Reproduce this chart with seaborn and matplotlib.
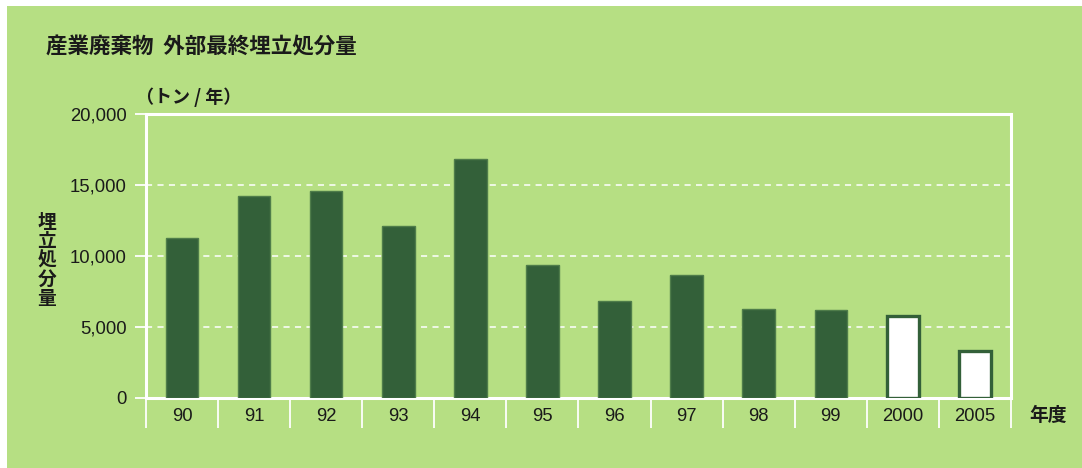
import matplotlib
matplotlib.use("Agg")
import matplotlib.pyplot as plt
import seaborn as sns
import pandas as pd
from matplotlib.patches import Rectangle

# ---- data ----
years = ["90", "91", "92", "93", "94", "95", "96", "97", "98", "99", "2000", "2005"]
landfill = [11300, 14200, 14600, 12100, 16800, 9400, 6800, 8650, 6300, 6200, 5800, 3300]
kind = ["actual"] * 10 + ["target"] * 2
yticks = [0, 5000, 10000, 15000, 20000]

title = "産業廃棄物  外部最終埋立処分量"
unit_label = "（トン / 年）"
ylabel = "埋立処分量"
xlabel = "年度"

BG = "#b6df83"
DARK = "#336039"
DARK_EDGE = "#4f7d4a"
TXT = "#1a1a1a"

sns.set_theme(style="white")
plt.rcParams["font.family"] = ["Liberation Sans", "Noto Sans CJK JP", "DejaVu Sans"]
JP = ["Noto Sans CJK JP", "DejaVu Sans"]

W, H = 1082, 468
fig = plt.figure(figsize=(W / 100, H / 100), dpi=100, facecolor="white")
fig.patches.append(Rectangle((7 / W, 0), 1 - 7 / W, 1 - 6 / H, transform=fig.transFigure,
                             facecolor=BG, edgecolor="none", zorder=-10))

left, right, top, bottom = 146, 1011, 114, 398
ax = fig.add_axes([left / W, 1 - bottom / H, (right - left) / W, (bottom - top) / H])
ax.set_facecolor(BG)

df = pd.DataFrame({"year": years, "value": landfill, "kind": kind})
sns.barplot(data=df, x="year", y="value", hue="kind",
            palette={"actual": DARK, "target": "white"}, width=0.45, saturation=1,
            dodge=False, legend=False, ax=ax, zorder=3)
for p, k in zip(ax.patches, kind):
    if k == "actual":
        p.set_edgecolor(DARK_EDGE)
        p.set_linewidth(1.0)
    else:
        p.set_edgecolor(DARK)
        p.set_linewidth(2.4)

ax.set_xlim(-0.5, len(years) - 0.5)
ax.set_ylim(0, 20000)
ax.set_yticks(yticks)
ax.set_yticklabels([f"{v:,}" for v in yticks], fontsize=13.3, color=TXT)
ax.set_xlabel("")
ax.set_ylabel("")

for v in yticks[1:-1]:
    ax.axhline(v, color="white", lw=1.1, ls=(0, (4, 3.5)), zorder=1)

for s in ax.spines.values():
    s.set_color("white")
    s.set_linewidth(2.2)

ax.tick_params(axis="y", direction="out", length=8, width=1.3, color="white", pad=6, left=True)
ax.set_xticks(range(len(years)))
ax.set_xticklabels(years, fontsize=13.3, color=TXT)
ax.set_xticks([i - 0.5 for i in range(len(years) + 1)], minor=True)
ax.tick_params(axis="x", which="major", length=0, pad=7.5, bottom=True)
ax.tick_params(axis="x", which="minor", direction="out", length=21.5, width=1.3,
               color="white", bottom=True)

fig.text(46 / W, 1 - 47 / H, title, fontsize=15.5, fontweight="bold", family=JP,
         ha="left", va="center", color=TXT)
fig.text(136 / W, 1 - 97 / H, unit_label, fontsize=13, fontweight="bold", family=JP,
         ha="left", va="center", color=TXT)
fig.text(47 / W, 1 - 260 / H, "\n".join(ylabel), fontsize=13.5, fontweight="bold", family=JP,
         ha="center", va="center", linespacing=1.0, color=TXT)
fig.text(1048 / W, 1 - 415 / H, xlabel, fontsize=13.5, fontweight="bold", family=JP,
         ha="center", va="center", color=TXT)

fig.savefig("out.png", dpi=100, facecolor="white")
